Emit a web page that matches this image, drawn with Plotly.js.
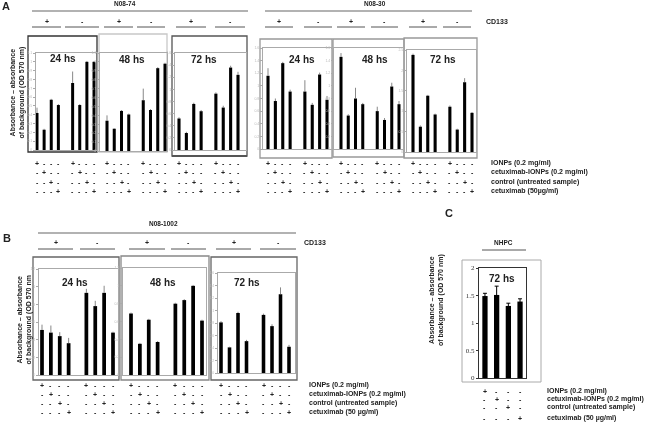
<!DOCTYPE html>
<html><head><meta charset="utf-8">
<script src="https://cdn.plot.ly/plotly-3.0.1.min.js"></script>
<style>html,body{margin:0;padding:0;background:#fff}#chart{width:648px;height:424px;will-change:transform}</style>
</head><body><div id="chart"></div>
<script>
// ---------- DATA ----------
const categories = ['IONPs', 'cetuximab-IONPs', 'control', 'cetuximab'];
const cd133Groups = ['+', '-'];
const timepoints = ['24 hs', '48 hs', '72 hs'];
const cellLines = ['N08-74', 'N08-30', 'N08-1002', 'NHPC'];
const treatmentLabelsA = ['IONPs (0.2 mg/ml)', 'cetuximab-IONPs (0.2 mg/ml)', 'control (untreated sample)', 'cetuximab (50µg/ml)'];
const treatmentLabelsB = ['IONPs (0.2 mg/ml)', 'cetuximab-IONPs (0.2 mg/ml)', 'control (untreated sample)', 'cetuximab (50 µg/ml)'];
const yTitle = 'Absorbance – absorbance<br>of background (OD 570 nm)';
const yTitleB = 'Absorbance – absorbance<br>of background (OD 570 nm';

// CD133+ (4 treatments) then CD133- (4 treatments)
const n0874_24 = [0.42, 0.23, 0.57, 0.51, 0.76, 0.51, 1.00, 1.00];
const n0874_24_err = [0.06, 0.01, 0.01, 0.01, 0.13, 0.01, 0.01, 0.01];
const n0874_48 = [0.34, 0.25, 0.45, 0.41, 0.57, 0.46, 0.93, 0.98];
const n0874_48_err = [0.06, 0.005, 0.01, 0.01, 0.13, 0.01, 0.01, 0.01];
const n0874_72 = [0.52, 0.28, 0.76, 0.64, 0.93, 0.70, 1.36, 1.24];
const n0874_72_err = [0.02, 0.02, 0.02, 0.02, 0.02, 0.03, 0.03, 0.05];
const n0830_24 = [1.16, 0.76, 1.36, 0.91, 0.91, 0.70, 1.18, 0.78];
const n0830_24_err = [0.12, 0.04, 0.02, 0.03, 0.18, 0.03, 0.03, 0.06];
const n0830_48 = [1.46, 0.53, 0.80, 0.71, 0.60, 0.46, 0.99, 0.71];
const n0830_48_err = [0.06, 0.02, 0.17, 0.02, 0.07, 0.03, 0.06, 0.05];
const n0830_72 = [2.38, 0.62, 1.38, 0.92, 1.11, 0.55, 1.71, 0.96];
const n0830_72_err = [0.03, 0.03, 0.02, 0.02, 0.03, 0.02, 0.10, 0.02];
const n081002_24 = [0.51, 0.48, 0.44, 0.36, 0.93, 0.78, 0.93, 0.48];
const n081002_24_err = [0.06, 0.08, 0.045, 0.06, 0.045, 0.06, 0.08, 0.01];
const n081002_48 = [0.69, 0.35, 0.62, 0.37, 0.80, 0.84, 1.00, 0.61];
const n081002_48_err = [0.01, 0.01, 0.01, 0.01, 0.01, 0.01, 0.01, 0.01];
const n081002_72 = [0.81, 0.41, 0.96, 0.51, 0.93, 0.75, 1.26, 0.42];
const n081002_72_err = [0.02, 0.01, 0.02, 0.02, 0.02, 0.03, 0.11, 0.03];
const nhpc_72 = [1.49, 1.51, 1.31, 1.39];
const nhpc_72_err = [0.05, 0.16, 0.05, 0.05];

// ---------- LAYOUT HELPERS ----------
const W = 648, H = 424;
const fx = p => p / W, fy = p => 1 - p / H;
const FONT = 'Liberation Sans, Arial, sans-serif';

const plusCats = categories.map(c => 'CD133' + cd133Groups[0] + ' ' + c);
const minusCats = categories.map(c => 'CD133' + cd133Groups[1] + ' ' + c);
const xcats = plusCats.concat(minusCats);
const catOrder = plusCats.concat(['gap'], minusCats);

const panels = [
  {vals: n0874_24, err: n0874_24_err, time: timepoints[0], L:36, R:97, T:53, B:150, b0:37, b8:94, ymax:1.1, dtick:0.1, tx:63, ty:59, box:[28,97,36,152,'#333'], rows:'A'},
  {vals: n0874_48, err: n0874_48_err, time: timepoints[1], L:100, R:167, T:53, B:151, b0:107, b8:165, ymax:1.1, dtick:0.1, tx:132, ty:60, box:[99,167,34,152,'#c8c8c8'], rows:'A'},
  {vals: n0874_72, err: n0874_72_err, time: timepoints[2], L:175, R:246, T:53, B:150, b0:179, b8:238, ymax:1.6, dtick:0.2, tx:204, ty:60, box:[172,247,36,156,'#555'], rows:'A'},
  {vals: n0830_24, err: n0830_24_err, time: timepoints[0], L:263, R:332, T:48, B:149, b0:268, b8:327, ymax:1.6, dtick:0.2, tx:302, ty:60, box:[260,332,39,158,'#999'], rows:'A'},
  {vals: n0830_48, err: n0830_48_err, time: timepoints[1], L:334, R:403, T:48, B:149, b0:341, b8:399, ymax:1.6, dtick:0.2, tx:375, ty:60, box:[333,404,39,157,'#999'], rows:'A'},
  {vals: n0830_72, err: n0830_72_err, time: timepoints[2], L:407, R:476, T:50, B:152, b0:413, b8:472, ymax:2.5, dtick:0.5, tx:443, ty:60, box:[404,477,38,158,'#999'], rows:'A'},
  {vals: n081002_24, err: n081002_24_err, time: timepoints[0], L:39, R:118, T:269, B:375, b0:42, b8:113, ymax:1.2, dtick:0.2, tx:75, ty:282, box:[33,119,257,380,'#666'], rows:'B'},
  {vals: n081002_48, err: n081002_48_err, time: timepoints[1], L:123, R:206, T:268, B:375, b0:131, b8:202, ymax:1.2, dtick:0.2, tx:163, ty:282, box:[121,209,256,380,'#888'], rows:'B'},
  {vals: n081002_72, err: n081002_72_err, time: timepoints[2], L:218, R:295, T:273, B:373, b0:221, b8:289, ymax:1.6, dtick:0.2, tx:247, ty:282, box:[211,297,257,380,'#666'], rows:'B'}
];
const rowYs = {A:[163,172,182,191], B:[385,394,403,412], C:[391,399,407,418]};

const traces = [], annotations = [], shapes = [];
const layout = {
  width: W, height: H, margin: {l:0, r:0, t:0, b:0},
  paper_bgcolor: '#fff', plot_bgcolor: 'rgba(0,0,0,0)',
  showlegend: false, font: {family: FONT, color: '#222'}
};

function txt(t, x, y, size, opts) {
  annotations.push(Object.assign({text: t, x: fx(x), y: fy(y), xref: 'paper', yref: 'paper',
    showarrow: false, xanchor: 'center', yanchor: 'middle',
    font: {family: FONT, size: size, color: '#222', weight: 'bold'}}, opts || {}));
}
function line(x0, y0, x1, y1, color, w) {
  shapes.push({type:'line', xref:'paper', yref:'paper', x0: fx(x0), y0: fy(y0), x1: fx(x1), y1: fy(y1), line:{color: color, width: w}});
}
function rect(x0, x1, y0, y1, color, w) {
  shapes.push({type:'rect', xref:'paper', yref:'paper', x0: fx(x0), x1: fx(x1), y0: fy(y1), y1: fy(y0), line:{color: color, width: w}, layer:'below'});
}
// +/- treatment matrix below a subplot, x placed on the subplot's own category axis
function signRows(cats, xa, rows, nPer) {
  cats.forEach((c, j) => {
    for (let r = 0; r < 4; r++) {
      annotations.push({text: (j % nPer === r) ? '+' : '-', x: c, xref: xa, y: fy(rows[r]), yref: 'paper',
        showarrow: false, xanchor: 'center', yanchor: 'middle',
        font: {family: FONT, size: 7, color: '#222', weight: 'bold'}});
    }
  });
}

panels.forEach((p, i) => {
  const n = i + 1, xa = 'x' + (n > 1 ? n : ''), ya = 'y' + (n > 1 ? n : '');
  const u = (p.b8 - p.b0) / 8;
  layout['xaxis' + (n > 1 ? n : '')] = {
    domain: [fx(p.L), fx(p.R)], anchor: ya, type: 'category', categoryorder: 'array', categoryarray: catOrder,
    range: [-(p.b0 - p.L) / u, 8 + (p.R - p.b8) / u], showticklabels: false, ticks: '',
    showline: true, mirror: true, linecolor: '#aaa', linewidth: 1, showgrid: false, zeroline: false, fixedrange: true
  };
  layout['yaxis' + (n > 1 ? n : '')] = {
    domain: [fy(p.B), fy(p.T)], anchor: xa, range: [0, p.ymax], dtick: p.dtick,
    ticks: 'outside', ticklen: 2, tickcolor: '#aaa', tickfont: {size: 3.5, color: '#bbb'},
    showline: true, mirror: true, linecolor: '#aaa', linewidth: 1, showgrid: false, zeroline: false, fixedrange: true
  };
  traces.push({type:'bar', x: xcats, y: p.vals, xaxis: xa, yaxis: ya, width: 0.42,
    marker: {color: '#000'}, hoverinfo: 'skip',
    error_y: {type:'data', symmetric: false, array: p.err, arrayminus: p.err.map(() => 0), color: '#555', thickness: 0.7, width: 0}});
  rect(p.box[0], p.box[1], p.box[2], p.box[3], p.box[4], 1.3);
  txt(p.time, p.tx, p.ty, 10);
  signRows(xcats, xa, rowYs[p.rows], 4);
});
// heavier bottom on A 72hs box
line(172, 156, 247, 156, '#555', 2);

// Panel C
{
  const xa = 'x10', ya = 'y10';
  layout.xaxis10 = {domain: [fx(479), fx(526)], anchor: ya, type:'category', categoryorder:'array', categoryarray: categories,
    range: [-0.51, 3.51], showticklabels: false, ticks: '', showline: true, mirror: true, linecolor: '#333', linewidth: 1,
    showgrid: false, zeroline: false, fixedrange: true};
  layout.yaxis10 = {domain: [fy(378), fy(268)], anchor: xa, range: [0, 2], dtick: 0.5, ticks: 'outside', ticklen: 2, tickcolor:'#333',
    tickfont: {family: 'Liberation Serif, Times New Roman, serif', size: 7, color: '#333'},
    showline: true, mirror: true, linecolor: '#333', linewidth: 1, showgrid: false, zeroline: false, fixedrange: true};
  traces.push({type:'bar', x: categories, y: nhpc_72, xaxis: xa, yaxis: ya, width: 0.45, marker: {color:'#000'}, hoverinfo:'skip',
    error_y: {type:'data', array: nhpc_72_err, color:'#000', thickness: 1, width: 2}});
  rect(462, 541, 260, 382, '#aaa', 1);
  txt(timepoints[2], 502, 278, 10);
  signRows(categories, xa, rowYs.C, 4);
}

// Panel letters
txt('A', 6, 6, 11);
txt('B', 7, 238, 11);
txt('C', 449, 213, 11);

// Cell line headers and lines
txt(cellLines[0], 125, 4, 6.5); line(32, 11, 248, 11, '#999', 1.5);
txt(cellLines[1], 375, 4, 6.5); line(265, 11, 472, 11, '#999', 1.5);
txt(cellLines[2], 163, 223, 6.5); line(38, 233, 296, 233, '#999', 1.5);
txt(cellLines[3], 503, 243, 6.5); line(482, 250, 526, 250, '#555', 1);

// CD133 rows
const segA = [[32,61],[65,99],[104,133],[137,165],[176,206],[215,245],[265,293],[304,332],[337,365],[371,398],[409,437],[443,471]];
const segB = [[38,73],[80,115],[129,165],[171,206],[216,251],[260,296]];
segA.forEach((s, k) => { line(s[0], 27, s[1], 27, '#555', 1); txt(cd133Groups[k % 2], (s[0] + s[1]) / 2, 21, 7); });
segB.forEach((s, k) => { line(s[0], 249, s[1], 249, '#555', 1); txt(cd133Groups[k % 2], (s[0] + s[1]) / 2, 242, 7); });
txt('CD133', 484, 21, 7, {xanchor: 'left'});
txt('CD133', 302, 242, 7, {xanchor: 'left'});

// Treatment row labels
treatmentLabelsA.forEach((t, r) => txt(t, 489, rowYs.A[r], 7, {xanchor: 'left'}));
treatmentLabelsB.forEach((t, r) => txt(t, 307, rowYs.B[r], 7, {xanchor: 'left'}));
treatmentLabelsB.forEach((t, r) => txt(t, 545, rowYs.C[r], 7, {xanchor: 'left'}));

// Y titles
txt(yTitle, 17.5, 93, 7, {textangle: -90});
txt(yTitleB, 23.5, 320, 7, {textangle: -90});
txt(yTitle, 436, 300, 7, {textangle: -90});

layout.annotations = annotations;
layout.shapes = shapes;
Plotly.newPlot('chart', traces, layout, {staticPlot: true, displayModeBar: false});
</script>
</body></html>
